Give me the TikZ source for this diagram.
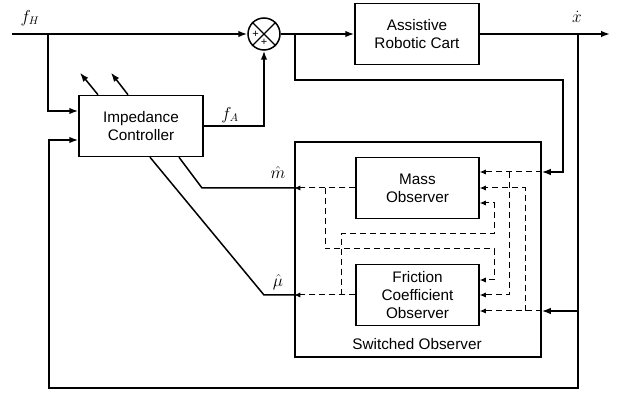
\documentclass[tikz,border=0pt]{standalone}
\usepackage{fontspec}
\setmainfont{Liberation Sans}
\usetikzlibrary{arrows.meta,positioning}

\begin{document}
\begin{tikzpicture}[
    x=1pt, y=-1pt,
    box/.style={draw, line width=1.5pt, align=center, minimum width=124pt, minimum height=61pt, inner sep=0pt, font=\fontsize{15.3}{18}\selectfont},
    link/.style={-{Latex[length=9pt,width=6.5pt]}, line width=1.5pt},
    wire/.style={line width=1.5pt},
    est/.style={-{Latex[length=6pt,width=5pt]}, line width=1pt, dash pattern=on 6pt off 4pt},
    dline/.style={line width=1pt, dash pattern=on 6pt off 4pt},
    lab/.style={font=\fontsize{16}{18}\selectfont, inner sep=0pt}
]
\useasboundingbox (0,0) rectangle (621,395);

% blocks
\node[box] (ctrl) at (141,126) {Impedance\\Controller};
\node[box] (cart) at (417,34) {Assistive\\Robotic Cart};
\node[draw, line width=1.5pt, minimum width=246pt, minimum height=215pt, inner sep=0pt] (obs) at (418,249.5) {};
\node[box, minimum width=123pt] (mass) at (417.5,188) {Mass\\Observer};
\node[box, minimum width=123pt] (fric) at (417.5,295) {Friction\\Coefficient\\Observer};
\node[font=\fontsize{15.3}{18}\selectfont] (obstxt) at (417,344) {Switched Observer};

% summing junction
\node[circle, draw, line width=1.5pt, minimum size=32pt, inner sep=0pt] (sum) at (264,34) {};
\draw[line width=1.3pt] (sum.north west) -- (sum.south east) (sum.north east) -- (sum.south west);
\node[font=\fontsize{11}{11}\selectfont, inner sep=0pt] (plusl) at (255.5,34) {+};
\node[font=\fontsize{11}{11}\selectfont, inner sep=0pt] (plusb) at (264,42.5) {+};

% signals
\coordinate (in) at (12,34);
\coordinate (bh) at (48,34);
\coordinate (bs) at (295,34);
\coordinate (out) at (610,34);
\coordinate (fb) at (578,34);
\coordinate (tap) at (563,80);
\node[lab] (fh) at (30,18) {$f_H$};
\node[lab] (xd) at (577,17) {$\dot{x}$};
\node[lab] (fa) at (230,115) {$f_A$};
\node[lab] (mh) at (278,173) {$\hat{m}$};
\node[lab] (muh) at (278,282) {$\hat{\mu}$};

\draw[link] (in) -- (sum.west);
\draw[link] (bh) |- ([yshift=15pt]ctrl.west);
\draw[link] (ctrl.east) -| (sum.south);
\draw[link] (sum.east) -- (cart.west);
\draw[link] (cart.east) -- (out);
\draw[link] (bs) |- (tap) |- (obs.east |- 0,172);
\draw[link] (fb) |- (49,388) |- ([yshift=-14pt]ctrl.west);
\draw[link] (fb |- 0,311) -- (obs.east |- 0,311);
\draw[link] ([xshift=-43pt]ctrl.north) -- ++(-18,-22);
\draw[link] ([xshift=-13pt]ctrl.north) -- ++(-17,-22);
\draw[wire] (obs.west |- mass) -- (202,188) -- ([xshift=38pt]ctrl.south);
\draw[wire] (obs.west |- fric) -- (264,295) -- ([xshift=9pt]ctrl.south);

% observer internals
\draw[est] (obs.east |- 0,172) -- (mass.east |- 0,172);
\draw[est] (509,172) |- (fric.east);
\draw[est] (obs.east |- 0,311) -- (fric.east |- 0,311);
\draw[est] (525,311) |- (mass.east);
\draw[est] (mass.west) -- (obs.west |- mass);
\draw[est] (fric.west) -- (obs.west |- fric);
\draw[est] (325,188) |- (494,249) |- (fric.east |- 0,280);
\draw[est] (341,295) |- (494,234) |- (mass.east |- 0,203);
\end{tikzpicture}
\end{document}
